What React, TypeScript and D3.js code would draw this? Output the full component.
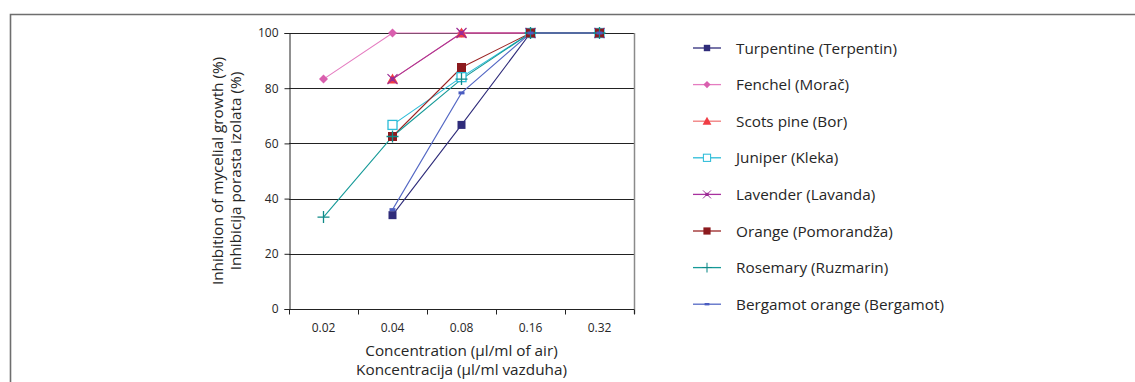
import React, { useEffect, useRef } from "react";
import * as d3 from "d3";

const concentrations = ["0.02", "0.04", "0.08", "0.16", "0.32"];
const yTicks = [0, 20, 40, 60, 80, 100];

// null = not measured at that concentration
const turpentine = [null, 34, 66.7, 100, 100];
const fenchel = [83.3, 100, 100, 100, 100];
const scotsPine = [null, 83.3, 100, 100, 100];
const juniper = [null, 66.7, 84, 100, 100];
const lavender = [null, 83.3, 100, 100, 100];
const orange = [null, 62.5, 87.5, 100, 100];
const rosemary = [33.3, 62.5, 83.3, 100, 100];
const bergamot = [null, 36, 78.3, 100, 100];

const seriesNames = [
  "Turpentine (Terpentin)",
  "Fenchel (Morač)",
  "Scots pine (Bor)",
  "Juniper (Kleka)",
  "Lavender (Lavanda)",
  "Orange (Pomorandža)",
  "Rosemary (Ruzmarin)",
  "Bergamot orange (Bergamot)",
];
const seriesValues = [turpentine, fenchel, scotsPine, juniper, lavender, orange, rosemary, bergamot];
const lineColors = ["#2f2c7a", "#e57cc0", "#f07a7a", "#2bbcd8", "#a8309e", "#9a2424", "#169a98", "#5468c4"];
const markerColors = ["#2f2c7a", "#d95fae", "#f03c44", "#2bbcd8", "#9b2a94", "#8c1a1e", "#0f8a88", "#4a5cc0"];
const markerTypes = ["square", "diamond", "triangle", "openSquare", "cross", "bigSquare", "plus", "dash"];

const width = 1135;
const height = 382;
const margin = { top: 33, left: 289, right: 501, bottom: 73 };

function drawMarker(g, type, color) {
  if (type === "square") {
    g.append("rect").attr("x", -4).attr("y", -4).attr("width", 8).attr("height", 8).attr("fill", color);
  } else if (type === "bigSquare") {
    g.append("rect").attr("x", -4.5).attr("y", -4.5).attr("width", 9).attr("height", 9).attr("fill", color);
  } else if (type === "diamond") {
    g.append("path").attr("d", "M0,-4.5L4.5,0L0,4.5L-4.5,0Z").attr("fill", color);
  } else if (type === "triangle") {
    g.append("path").attr("d", "M0,-5.5L5.5,4.5L-5.5,4.5Z").attr("fill", color);
  } else if (type === "openSquare") {
    g.append("rect").attr("x", -4.5).attr("y", -4.5).attr("width", 9).attr("height", 9)
      .attr("fill", "#fff").attr("stroke", color).attr("stroke-width", 1.3);
  } else if (type === "cross") {
    g.append("path").attr("d", "M-5,-5L5,5M-5,5L5,-5").attr("stroke", color).attr("stroke-width", 1.2);
    g.append("rect").attr("x", -2).attr("y", -2).attr("width", 4).attr("height", 4).attr("fill", color);
  } else if (type === "plus") {
    g.append("path").attr("d", "M-6,0L6,0M0,-6L0,6").attr("stroke", color).attr("stroke-width", 1.3);
  } else if (type === "dash") {
    g.append("rect").attr("x", -3).attr("y", -1.5).attr("width", 6).attr("height", 3).attr("fill", color);
  }
}

const App = () => {
  const ref = useRef(null);

  useEffect(() => {
    const svg = d3.select(ref.current);
    svg.selectAll("*").remove();

    const font = "'Open Sans', 'Noto Sans', sans-serif";
    const ink = "#262626";

    // outer frame (top + left edges)
    svg.append("path").attr("d", "M10.5,382V14.5H1135").attr("fill", "none")
      .attr("stroke", "#6e6e6e").attr("stroke-width", 1.6);

    const x = d3.scaleBand().domain(concentrations).range([margin.left, width - margin.right]);
    const y = d3.scaleLinear().domain([0, 100]).range([height - margin.bottom, margin.top]);
    const cx = (c) => x(c) + x.bandwidth() / 2;

    // gridlines
    svg.append("g").selectAll("line").data(yTicks.filter((t) => t > 0)).join("line")
      .attr("x1", margin.left).attr("x2", width - margin.right)
      .attr("y1", (d) => Math.round(y(d)) + 0.5).attr("y2", (d) => Math.round(y(d)) + 0.5)
      .attr("stroke", "#222").attr("stroke-width", 1);

    // right border of plot
    svg.append("line").attr("x1", width - margin.right + 0.5).attr("x2", width - margin.right + 0.5)
      .attr("y1", margin.top).attr("y2", height - margin.bottom + 5)
      .attr("stroke", "#8a8a8a").attr("stroke-width", 1.5);

    // y axis
    const yAxis = svg.append("g").attr("transform", `translate(${margin.left + 0.5},0)`)
      .call(d3.axisLeft(y).tickValues(yTicks).tickSize(5).tickPadding(6));
    yAxis.select(".domain").attr("stroke", "#222");
    yAxis.selectAll(".tick line").attr("stroke", "#222");
    yAxis.selectAll("text").attr("font-family", font).attr("font-size", 12).attr("fill", ink);

    // x axis: ticks at band edges, labels centred in bands
    const xg = svg.append("g").attr("transform", `translate(0,${Math.round(y(0)) + 0.5})`);
    xg.append("line").attr("x1", margin.left).attr("x2", width - margin.right).attr("stroke", "#222");
    const edges = concentrations.map((c) => x(c)).concat([width - margin.right]);
    xg.selectAll(".edge").data(edges).join("line").attr("class", "edge")
      .attr("x1", (d) => Math.round(d) + 0.5).attr("x2", (d) => Math.round(d) + 0.5)
      .attr("y1", 0).attr("y2", 5).attr("stroke", "#222");
    xg.selectAll("text").data(concentrations).join("text")
      .attr("x", (d) => cx(d)).attr("y", 22).attr("text-anchor", "middle")
      .attr("font-family", font).attr("font-size", 12).attr("fill", ink).text((d) => d);

    // axis titles
    const xTitle = svg.append("text").attr("text-anchor", "middle").attr("font-family", font)
      .attr("font-size", 15.3).attr("fill", ink);
    xTitle.append("tspan").attr("x", 461.5).attr("y", 356).text("Concentration (µl/ml of air)");
    xTitle.append("tspan").attr("x", 461.5).attr("y", 375).text("Koncentracija (µl/ml vazduha)");

    const yTitle = svg.append("text").attr("text-anchor", "middle").attr("font-family", font)
      .attr("font-size", 15.3).attr("fill", ink)
      .attr("transform", `translate(0,${(y(0) + y(100)) / 2}) rotate(-90)`);
    yTitle.append("tspan").attr("x", 0).attr("y", 223).text("Inhibition of mycelial growth (%)");
    yTitle.append("tspan").attr("x", 0).attr("y", 241).text("Inhibicija porasta izolata (%)");

    // series
    const line = d3.line()
      .defined((d) => d.v !== null)
      .x((d) => cx(d.c))
      .y((d) => y(d.v));

    seriesValues.forEach((vals, i) => {
      const pts = vals.map((v, j) => ({ c: concentrations[j], v }));
      svg.append("path").datum(pts).attr("d", line).attr("fill", "none")
        .attr("stroke", lineColors[i]).attr("stroke-width", 1.1);
    });
    seriesValues.forEach((vals, i) => {
      vals.forEach((v, j) => {
        if (v === null) return;
        const g = svg.append("g").attr("transform", `translate(${cx(concentrations[j])},${y(v)})`);
        drawMarker(g, markerTypes[i], markerColors[i]);
      });
    });

    // legend
    const legend = svg.append("g");
    seriesNames.forEach((name, i) => {
      const ly = 48 + i * 36.6;
      const row = legend.append("g").attr("transform", `translate(0,${ly})`);
      row.append("line").attr("x1", 693).attr("x2", 721).attr("y1", 0).attr("y2", 0)
        .attr("stroke", lineColors[i]).attr("stroke-width", 1.3);
      const m = row.append("g").attr("transform", "translate(707,0) scale(0.8)");
      drawMarker(m, markerTypes[i], markerColors[i]);
      row.append("text").attr("x", 736).attr("y", 5.5).attr("font-family", font)
        .attr("font-size", 15.3).attr("fill", ink).text(name);
    });
  }, []);

  return (
    <svg
      ref={ref}
      width={width}
      height={height}
      style={{ position: "absolute", left: 0, top: 0, background: "#fff" }}
    />
  );
};

export default App;
